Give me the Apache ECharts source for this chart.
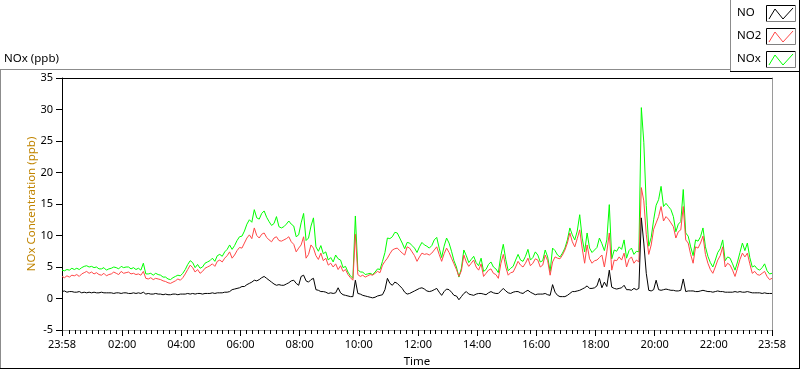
<!DOCTYPE html>
<html>
<head>
<meta charset="utf-8">
<script src="https://cdn.jsdelivr.net/npm/echarts@6/dist/echarts.min.js"></script>
<style>
html,body{margin:0;padding:0;background:#fff;}
#chart{width:800px;height:369px;}
</style>
</head>
<body>
<div id="chart"></div>
<script>
// ---- data (5-minute samples starting at 23:58) ----
const startMinute = -2;
const stepMinutes = 5;
const seriesNames = ['NO', 'NO2', 'NOx'];
const seriesColors = ['#000000', '#ff4747', '#00ff00'];

const no2Values = [
3.5,3.3,3.6,3.4,3.7,3.6,3.8,3.5,3.9,4.1,
4.3,4.0,4.2,3.9,4.1,3.8,3.7,4.0,3.6,3.8,
3.9,4.2,4.0,3.8,4.3,4.0,4.1,4.2,3.9,4.0,
3.8,3.9,3.7,4.3,3.2,3.1,3.3,3.0,3.2,3.1,
3.0,2.8,2.7,2.5,2.4,2.6,2.8,3.1,2.9,3.3,
3.9,4.6,5.3,4.9,4.2,4.6,4.0,4.3,4.8,5.0,
5.2,5.5,5.1,5.9,6.1,5.8,6.4,6.8,7.4,6.4,
6.9,7.6,8.1,8.0,8.8,9.6,10.1,9.5,11.2,10.0,
9.6,10.2,10.4,9.7,9.3,9.0,9.6,9.8,9.2,9.1,
9.3,9.5,9.8,9.0,8.6,7.4,8.0,8.5,9.8,6.4,
7.0,8.5,8.0,6.8,6.2,7.2,6.0,6.4,5.3,5.6,
5.0,5.5,4.6,5.2,4.3,4.6,3.8,3.3,2.9,10.2,
3.8,3.5,3.7,3.4,3.6,3.8,3.7,4.0,4.3,4.1,
5.3,5.9,6.4,7.1,7.7,7.9,8.0,7.6,7.2,6.9,
8.2,8.0,7.4,6.8,5.9,6.6,7.2,7.0,7.1,6.9,
7.2,7.7,8.2,7.0,5.9,7.1,8.0,7.3,6.4,5.5,
4.6,3.5,4.4,6.9,5.8,5.1,5.6,6.1,5.0,4.5,
5.5,3.5,4.0,4.5,4.7,4.0,3.8,3.2,5.5,7.0,
5.0,3.7,4.1,4.2,5.0,5.9,5.3,5.0,5.6,6.4,
5.2,5.6,6.3,6.1,5.0,5.3,6.9,6.0,3.7,5.8,
6.6,6.4,6.3,6.9,7.7,8.8,10.4,9.0,8.2,9.5,
10.9,8.0,5.6,8.5,6.3,5.6,6.0,6.1,6.5,6.9,
5.0,7.4,10.4,4.5,6.1,6.0,6.6,6.1,7.2,5.0,
6.2,6.6,5.6,6.1,5.8,17.6,15.5,10.2,7.0,8.5,
11.0,12.0,13.0,14.6,12.3,13.0,12.6,12.0,11.4,9.6,
10.6,10.9,14.6,9.3,8.8,7.0,5.6,8.2,8.0,8.8,
9.9,7.0,5.6,4.6,4.0,5.0,6.1,6.8,8.2,5.0,
5.6,5.3,4.5,3.5,4.8,6.2,7.2,6.6,7.2,5.5,
4.0,4.3,3.8,3.7,4.0,4.3,3.5,3.0,3.2
];

const noValues = [
1.1,1.2,1.0,1.1,1.1,1.0,1.0,1.1,0.9,1.0,
0.9,1.0,0.9,1.0,0.9,0.9,1.0,0.9,0.9,0.9,
0.9,0.8,0.9,0.9,0.8,0.9,0.9,0.8,0.8,0.9,
0.8,0.9,0.8,1.0,0.7,0.8,0.7,0.7,0.8,0.7,
0.7,0.6,0.7,0.6,0.6,0.7,0.7,0.6,0.7,0.7,
0.7,0.8,0.7,0.8,0.7,0.8,0.8,0.7,0.8,0.8,
0.8,0.9,0.8,0.9,0.9,0.9,1.0,1.0,1.1,1.4,
1.5,1.6,1.7,1.9,1.9,2.2,2.4,2.6,2.9,2.8,
3.0,3.3,3.5,3.2,2.9,2.6,2.3,2.1,2.2,2.1,
2.1,2.3,2.5,2.8,2.9,2.4,2.1,3.5,3.7,2.8,
2.6,3.0,3.2,1.4,1.3,1.1,1.1,1.0,0.8,0.9,
0.8,0.9,1.7,0.9,0.6,0.5,0.4,0.3,0.3,2.9,
0.8,0.7,0.5,0.4,0.3,0.2,0.1,0.2,0.4,0.5,
0.6,1.4,3.2,2.4,2.1,2.6,2.4,2.0,1.6,1.0,
0.7,0.8,1.0,1.2,1.4,1.6,1.7,1.5,1.2,1.1,
1.2,1.4,1.6,1.0,0.5,1.1,1.5,1.4,1.0,0.5,
0.4,-0.2,0.3,0.8,1.1,0.7,0.6,0.5,0.7,0.8,
0.8,0.7,0.6,0.9,1.1,0.9,0.8,0.8,1.2,1.6,
1.2,0.9,0.8,1.0,1.1,1.1,0.9,0.8,1.1,1.3,
1.0,0.8,0.6,0.7,0.7,0.7,0.8,0.6,0.5,2.2,
1.0,0.5,0.3,0.3,0.3,0.5,0.8,1.1,1.1,1.2,
1.3,1.5,1.7,2.0,1.6,1.6,1.7,2.0,3.2,1.7,
2.6,1.9,4.5,1.8,1.6,1.5,1.6,1.7,2.1,1.4,
1.4,1.3,1.6,1.4,1.6,12.8,8.8,4.0,1.3,1.2,
1.4,2.9,1.4,1.3,1.4,1.5,1.4,1.3,1.3,1.2,
1.2,1.3,3.1,1.1,1.2,1.2,1.2,1.1,1.1,1.2,
1.3,1.2,1.1,1.1,1.0,1.1,1.2,1.1,1.1,1.0,
1.0,1.0,1.0,1.1,1.0,1.1,1.0,1.0,1.1,1.0,
0.9,0.9,0.9,0.9,0.8,0.9,0.8,0.8,0.8
];

const noxValues = [
4.5,4.4,4.6,4.5,4.8,4.6,4.8,4.6,4.9,5.1,
5.2,5.0,5.1,4.9,5.0,4.7,4.7,4.9,4.5,4.7,
4.8,5.0,4.9,4.7,5.1,4.9,5.0,5.0,4.7,4.9,
4.6,4.8,4.5,5.6,3.9,3.9,4.0,3.7,4.0,3.8,
3.7,3.4,3.4,3.1,3.0,3.3,3.5,3.7,3.6,4.0,
4.6,5.4,6.0,5.7,4.9,5.4,4.8,5.0,5.6,5.8,
6.0,6.4,5.9,6.8,7.0,6.7,7.4,7.8,8.5,7.8,
8.4,9.2,9.8,9.9,10.7,11.8,12.5,12.1,14.1,12.8,
12.6,13.5,13.9,12.9,12.2,11.6,11.9,13.0,11.4,11.2,
11.4,11.8,12.3,11.8,11.5,9.8,10.1,12.0,13.5,9.2,
9.6,11.5,12.8,8.2,7.5,8.4,7.1,7.4,6.1,6.5,
5.8,6.9,6.3,6.1,4.9,5.1,4.2,3.6,3.2,13.1,
4.6,4.2,4.2,3.8,3.9,4.0,3.8,4.2,4.7,4.6,
5.9,7.3,9.6,9.5,9.8,10.5,10.4,9.6,8.8,7.9,
8.9,8.8,8.4,8.0,7.3,8.2,8.9,8.5,8.3,8.0,
8.4,9.3,9.7,8.0,6.5,8.3,9.6,8.8,7.5,6.0,
5.0,3.4,4.8,7.7,6.8,5.7,6.2,6.7,5.7,5.2,
6.4,4.3,4.6,5.4,5.8,5.0,4.7,4.1,6.8,8.6,
6.2,4.4,4.8,5.1,6.1,7.0,6.1,5.9,6.7,7.8,
6.1,6.5,7.4,6.9,5.8,6.0,7.7,6.6,4.3,8.0,
7.6,6.9,6.6,7.2,8.0,9.3,11.2,10.1,9.3,10.7,
13.3,9.6,7.4,10.4,8.0,7.3,7.7,8.1,9.6,8.7,
7.6,9.3,14.9,6.3,7.7,7.5,8.2,7.8,9.3,6.4,
7.6,8.0,7.0,7.5,7.4,30.3,24.8,14.8,8.3,9.7,
12.5,14.8,15.7,17.8,14.6,15.1,14.6,14.1,13.0,10.6,
11.8,12.2,17.3,10.4,9.9,8.2,6.8,9.3,9.1,9.8,
11.2,8.2,6.7,5.7,5.0,6.1,7.3,7.9,9.3,6.0,
6.6,6.4,5.5,4.5,5.8,7.3,8.8,7.6,8.8,6.5,
5.0,5.2,4.7,4.5,4.9,5.5,4.4,3.9,4.0
];

// axis ticks (minutes from midnight)
const xMin = -2, xMax = 1438;
const xMajorTicks = [-2,120,240,360,480,600,720,840,960,1080,1200,1320,1438];
const yMin = -5, yMax = 35, yInterval = 5;

// ---- build ----
const FONT = 'Noto Sans';
function toPairs(vals){ return vals.map((v,i)=>[startMinute + i*stepMinutes, v]); }
function fmtTime(v){
  let m = ((Math.round(v) % 1440) + 1440) % 1440;
  const h = Math.floor(m/60), mm = m % 60;
  return String(h).padStart(2,'0') + ':' + String(mm).padStart(2,'0');
}
const xMinorTicks = [];
for (let t = 12; t < xMax; t += 12) { if (t % 120 !== 0) xMinorTicks.push(t); }

const chart = echarts.init(document.getElementById('chart'), null, {renderer:'canvas'});

const legendBoxes = [];
const legendY = [5, 28, 51];
seriesNames.forEach((name, k) => {
  const by = legendY[k];
  legendBoxes.push({type:'text', silent:true, style:{x:737, y:by+8, text:name, font:'11.5px "'+FONT+'"', fill:'#000', verticalAlign:'middle', align:'left'}});
  legendBoxes.push({type:'rect', silent:true, shape:{x:766.5, y:by+0.5, width:29, height:16}, style:{fill:'#fff', stroke:null}});
  legendBoxes.push({type:'polyline', silent:true, shape:{points:[[766.5,by+0.5],[766.5,by+16.5]]}, style:{stroke:'#000', lineWidth:1, fill:null}});
  legendBoxes.push({type:'polyline', silent:true, shape:{points:[[766.5,by+0.5],[795.5,by+0.5]]}, style:{stroke:'#000', lineWidth:1, fill:null}});
  legendBoxes.push({type:'polyline', silent:true, shape:{points:[[795.5,by+0.5],[795.5,by+16.5],[766.5,by+16.5]]}, style:{stroke:'#808080', lineWidth:1, fill:null}});
  legendBoxes.push({type:'polyline', silent:true, shape:{points:[[769,by+14],[775,by+4],[783,by+14],[793,by+3]]}, style:{stroke:seriesColors[k], lineWidth:1, fill:null}});
});

const option = {
  animation:false,
  backgroundColor:'#ffffff',
  textStyle:{fontFamily:FONT},
  grid:{left:62, top:78, width:710, height:252, containLabel:false, outerBoundsMode:'none'},
  xAxis:[
    {type:'value', min:xMin, max:xMax, position:'bottom',
     name:'Time', nameLocation:'middle', nameGap:26, nameMoveOverlap:false,
     nameTextStyle:{color:'#000', fontSize:11.5, fontFamily:FONT},
     axisLine:{show:true, onZero:false, lineStyle:{color:'#9a9a9a', width:1}},
     axisTick:{show:true, customValues:xMajorTicks, length:6, lineStyle:{color:'#000'}},
     axisLabel:{show:true, customValues:xMajorTicks, formatter:fmtTime, margin:9, color:'#000', fontSize:11, fontFamily:FONT, showMinLabel:true, showMaxLabel:true},
     splitLine:{show:false}},
    {type:'value', min:xMin, max:xMax, position:'bottom',
     axisLine:{show:false, onZero:false},
     axisTick:{show:true, customValues:xMinorTicks, length:4, lineStyle:{color:'#000'}},
     axisLabel:{show:false}, splitLine:{show:false}},
    {type:'value', min:xMin, max:xMax, position:'top',
     axisLine:{show:true, onZero:false, lineStyle:{color:'#000', width:1}},
     axisTick:{show:false}, axisLabel:{show:false}, splitLine:{show:false}}
  ],
  yAxis:[
    {type:'value', min:yMin, max:yMax, interval:yInterval, position:'left',
     name:'NOx Concentration (ppb)', nameLocation:'middle', nameRotate:90, nameGap:24, nameMoveOverlap:false,
     nameTextStyle:{color:'#c08400', fontSize:11.5, fontFamily:FONT},
     axisLine:{show:true, onZero:false, lineStyle:{color:'#000', width:1}},
     axisTick:{show:true, length:6, lineStyle:{color:'#000'}},
     axisLabel:{show:true, margin:9, color:'#000', fontSize:11, fontFamily:FONT},
     splitLine:{show:false}},
    {type:'value', min:yMin, max:yMax, interval:yInterval, position:'right',
     axisLine:{show:true, onZero:false, lineStyle:{color:'#9a9a9a', width:1}},
     axisTick:{show:false}, axisLabel:{show:false}, splitLine:{show:false}}
  ],
  series:[
    {name:'NOx', type:'line', data:toPairs(noxValues), symbol:'none', showSymbol:false, z:2,
     lineStyle:{color:seriesColors[2], width:1}, itemStyle:{color:seriesColors[2]}},
    {name:'NO2', type:'line', data:toPairs(no2Values), symbol:'none', showSymbol:false, z:3,
     lineStyle:{color:seriesColors[1], width:1}, itemStyle:{color:seriesColors[1]}},
    {name:'NO', type:'line', data:toPairs(noValues), symbol:'none', showSymbol:false, z:4,
     lineStyle:{color:seriesColors[0], width:1}, itemStyle:{color:seriesColors[0]}}
  ],
  graphic:[
    // outer frame
    {type:'polyline', silent:true, shape:{points:[[0,69.5],[730,69.5]]}, style:{stroke:'#8c8c8c', lineWidth:1, fill:null}},
    {type:'polyline', silent:true, shape:{points:[[0.5,69.5],[0.5,368]]}, style:{stroke:'#8c8c8c', lineWidth:1, fill:null}},
    {type:'polyline', silent:true, shape:{points:[[0,368.5],[800,368.5]]}, style:{stroke:'#000', lineWidth:1, fill:null}},
    {type:'polyline', silent:true, shape:{points:[[799.5,0],[799.5,369]]}, style:{stroke:'#000', lineWidth:1, fill:null}},
    // legend frame
    {type:'polyline', silent:true, shape:{points:[[730.5,0],[730.5,72]]}, style:{stroke:'#8c8c8c', lineWidth:1, fill:null}},
    {type:'polyline', silent:true, shape:{points:[[730,71.5],[800,71.5]]}, style:{stroke:'#000', lineWidth:1, fill:null}},
    // chart title
    {type:'text', silent:true, style:{x:4, y:59, text:'NOx (ppb)', font:'11.5px "'+FONT+'"', fill:'#000', verticalAlign:'middle'}}
  ].concat(legendBoxes)
};
chart.setOption(option);
</script>
</body>
</html>
